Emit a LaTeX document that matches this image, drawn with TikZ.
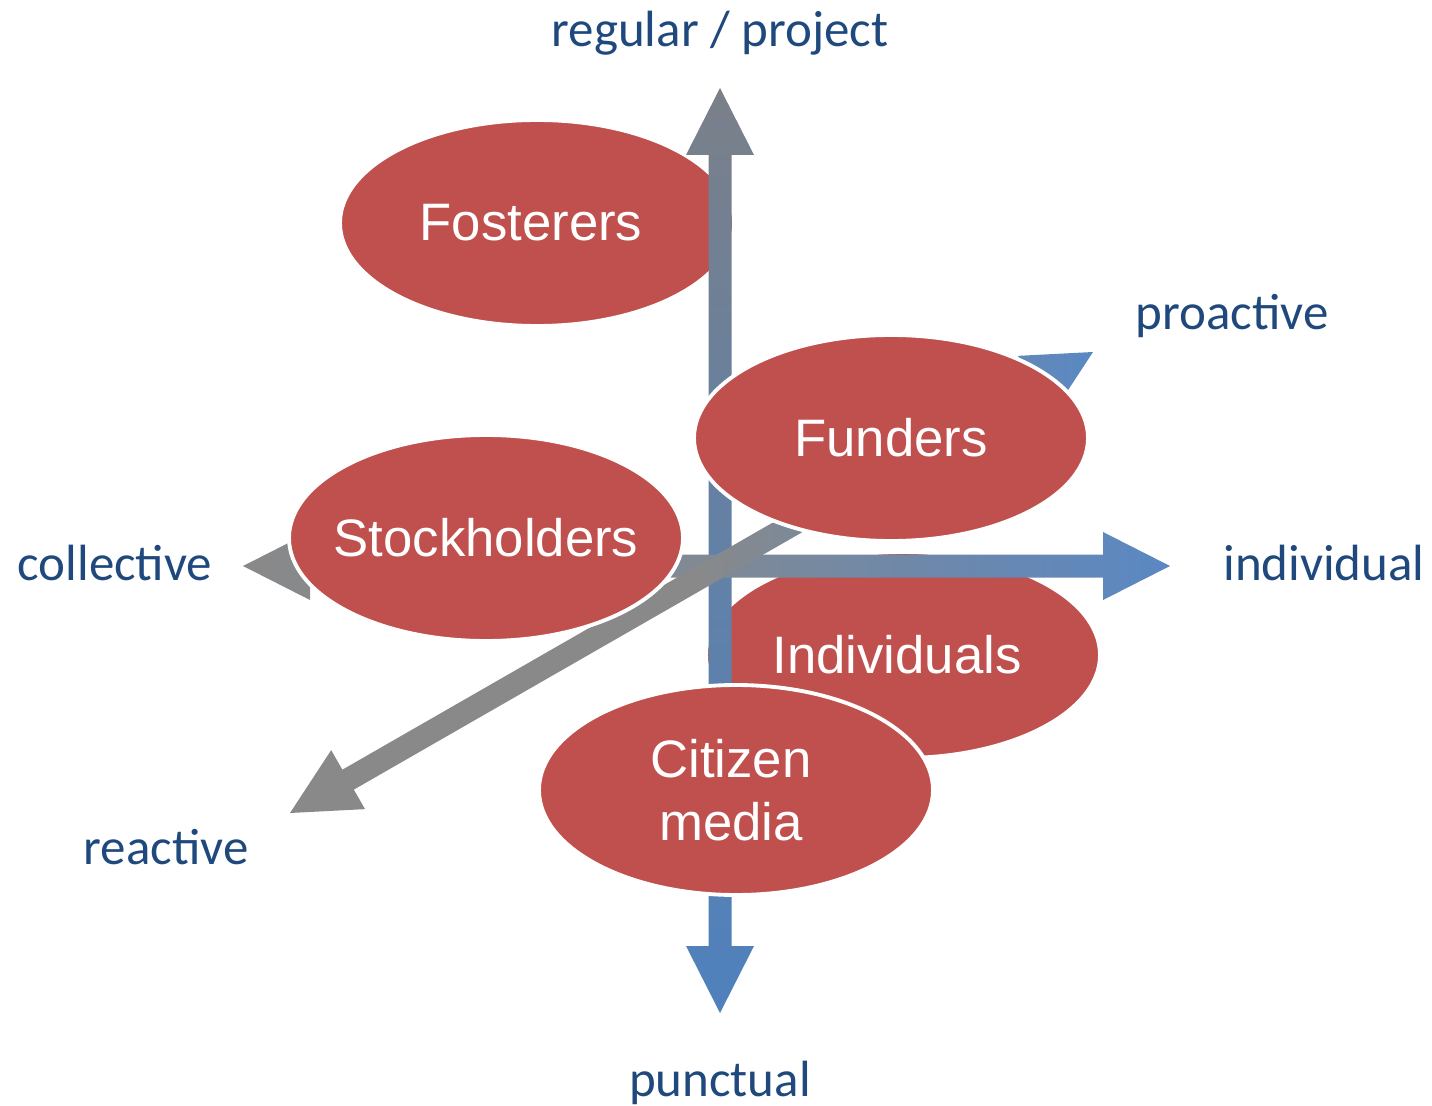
\documentclass[tikz,border=0pt]{standalone}
\usepackage{fontspec}
\setmainfont{Liberation Sans}
\newfontfamily\axisfont{Carlito}
\usetikzlibrary{calc}
\definecolor{actorred}{HTML}{C0504D}
\definecolor{axblue}{HTML}{4F81BD}
\definecolor{axlight}{HTML}{5A88C3}
\definecolor{axgray}{HTML}{898989}
\definecolor{axslate}{HTML}{7A8089}
\definecolor{labelblue}{HTML}{1F497D}
% fat double-headed axis from #1 to #2, shaded with #3
\newcommand{\headlen}{0.67cm}
\newcommand{\headwd}{0.34cm}
\newcommand{\shaftwd}{0.115cm}
\newcommand{\fataxis}[3]{%
  \shade[#3] (#1)
    -- ($(#1)!\headlen!(#2)!\headwd!90:(#2)$)
    -- ($(#1)!\headlen!(#2)!\shaftwd!90:(#2)$)
    -- ($(#2)!\headlen!(#1)!\shaftwd!-90:(#1)$)
    -- ($(#2)!\headlen!(#1)!\headwd!-90:(#1)$)
    -- (#2)
    -- ($(#2)!\headlen!(#1)!\headwd!90:(#1)$)
    -- ($(#2)!\headlen!(#1)!\shaftwd!90:(#1)$)
    -- ($(#1)!\headlen!(#2)!\shaftwd!-90:(#2)$)
    -- ($(#1)!\headlen!(#2)!\headwd!-90:(#2)$)
    -- cycle;}
\begin{document}
\begin{tikzpicture}[line join=round]
	\tikzset{actor/.style={fill=actorred, draw=white, line width=1.1pt},
		actortext/.style={text=white, align=center, font=\fontsize{15}{18}\selectfont},
		axlabel/.style={text=labelblue, font=\axisfont\fontsize{14.5}{17}\selectfont}}
	\useasboundingbox (0,0) rectangle (14.32,11.05);
	% axis ends
	\coordinate (axN) at (7.20,10.17); \coordinate (axS) at (7.20,0.92);
	\coordinate (axW) at (2.43,5.39); \coordinate (axE) at (11.70,5.39);
	\coordinate (axR) at (2.90,2.92); \coordinate (axP) at (10.93,7.53);
	% lower actors
	\filldraw[actor] (5.37,8.82) ellipse (1.97 and 1.03) node[actortext, xshift=-0.06cm] (fost) {Fosterers};
	\filldraw[actor] (9.03,4.50) ellipse (1.97 and 1.03) node[actortext, xshift=-0.06cm] (indiv) {Individuals};
	% axes
	\fataxis{axS}{axN}{top color=axslate, bottom color=axblue, middle color=axslate!45!axblue}
	\fataxis{axW}{axE}{left color=axgray, right color=axlight, middle color=axgray!80!axlight}
	\fataxis{axR}{axP}{left color=axgray, right color=axlight, middle color=axgray}
	% upper actors
	\filldraw[actor] (4.86,5.67) ellipse (1.97 and 1.03) node[actortext] (stock) {Stockholders};
	\filldraw[actor] (8.91,6.67) ellipse (1.97 and 1.03) node[actortext] (fund) {Funders};
	\filldraw[actor] (7.36,3.15) ellipse (1.97 and 1.05) node[actortext, xshift=-0.05cm] (citizen) {Citizen\\media};
	% axis labels
	\node[axlabel] (lregular) at (7.20,10.72) {regular / project};
	\node[axlabel] (lpunctual) at (7.20,0.22) {punctual};
	\node[axlabel] (lcollective) at (1.15,5.42) {collective};
	\node[axlabel] (lindividual) at (13.24,5.42) {individual};
	\node[axlabel] (lproactive) at (12.32,7.89) {proactive};
	\node[axlabel] (lreactive) at (1.66,2.58) {reactive};
\end{tikzpicture}
\end{document}
